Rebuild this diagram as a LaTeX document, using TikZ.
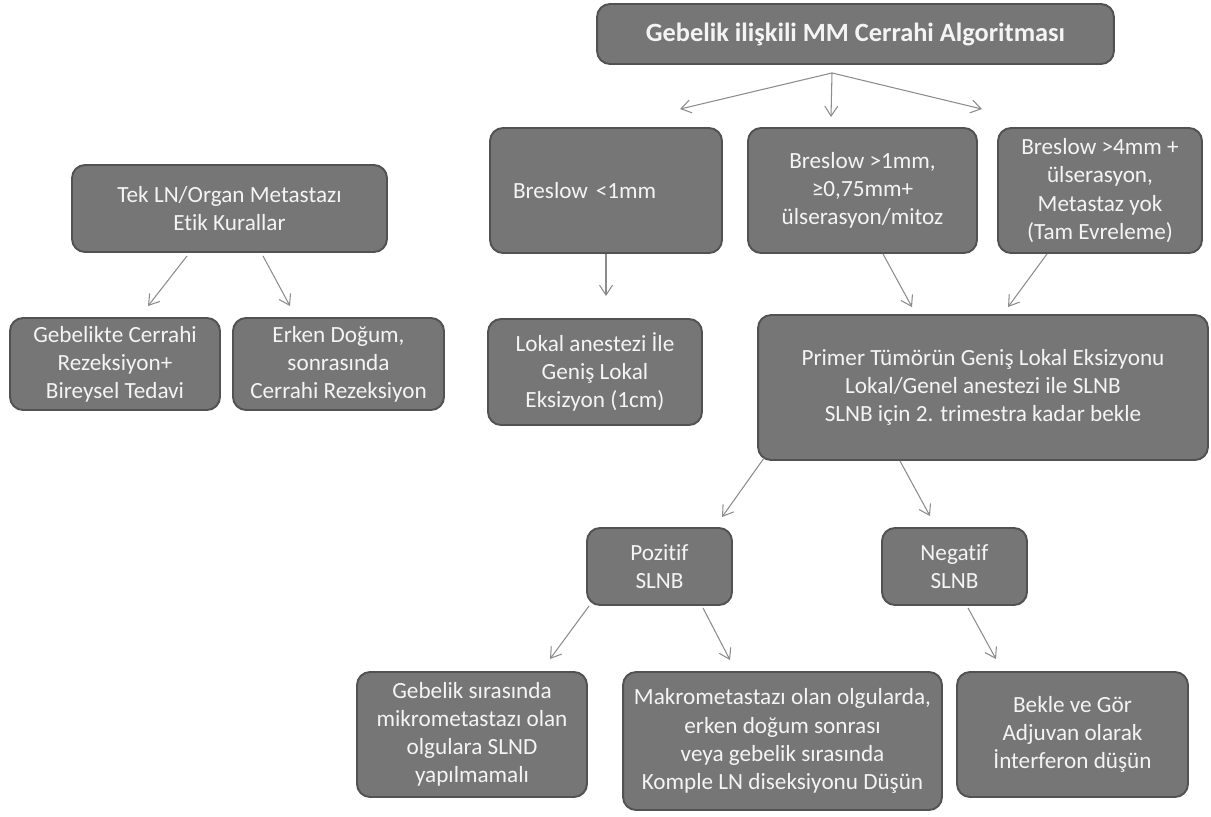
\documentclass[tikz,border=0pt]{standalone}
\usepackage{fontspec}
\setmainfont{Carlito}[Ligatures=NoCommon]
\usetikzlibrary{arrows.meta,calc}
\definecolor{boxfill}{RGB}{118,118,118}
\definecolor{boxline}{RGB}{82,82,82}
\definecolor{boxtext}{RGB}{244,244,244}
\definecolor{arrowgray}{RGB}{140,140,140}

\begin{document}
\begin{tikzpicture}[x=0.02cm, y=-0.02cm,
    box/.style={draw=boxline, fill=boxfill, line width=1.1pt, rounded corners=0.26cm,
        text=boxtext, align=center, inner sep=0pt,
        font=\fontsize{13.2}{16}\selectfont},
    arr/.style={draw=arrowgray, line width=.6pt,
        -{Straight Barb[length=0.2cm, width=0.26cm]}}]
    \useasboundingbox (0,0) rectangle (1211,816);

    \node[box, minimum width=10.34cm, minimum height=1.2cm,
        font=\fontsize{15}{17}\selectfont\bfseries] (title) at (855.5,34)
        {Gebelik ilişkili MM Cerrahi Algoritması};

    \node[box, minimum width=4.64cm, minimum height=2.5cm, text width=3.72cm,
        align=left] (b1) at (606,190.5) {Breslow <1mm};
    \node[box, minimum width=4.58cm, minimum height=2.5cm] (b2) at (862.5,190.5)
        {Breslow >1mm,\\≥0,75mm+\\ülserasyon/mitoz};
    \node[box, minimum width=4.08cm, minimum height=2.5cm] (b3) at (1100,190.5)
        {Breslow >4mm +\\ülserasyon,\\Metastaz yok\\(Tam Evreleme)};

    \node[box, minimum width=6.3cm, minimum height=1.74cm] (tek) at (229.5,208.5)
        {Tek LN/Organ Metastazı\\Etik Kurallar};
    \node[box, minimum width=4.2cm, minimum height=1.84cm] (geb1) at (115,364)
        {Gebelikte Cerrahi\\Rezeksiyon+\\Bireysel Tedavi};
    \node[box, minimum width=4.22cm, minimum height=1.84cm] (erken) at (338.5,364)
        {Erken Doğum,\\sonrasında\\Cerrahi Rezeksiyon};

    \node[box, minimum width=4.28cm, minimum height=2.12cm] (lokal) at (595,372)
        {Lokal anestezi İle\\Geniş Lokal\\Eksizyon (1cm)};
    \node[box, minimum width=9cm, minimum height=2.9cm] (primer) at (983,387.5)
        {Primer Tümörün Geniş Lokal Eksizyonu\\Lokal/Genel anestezi ile SLNB\\SLNB için 2. trimestra kadar bekle};

    \node[box, minimum width=2.9cm, minimum height=1.54cm] (poz) at (659.5,566.5)
        {Pozitif\\SLNB};
    \node[box, minimum width=2.9cm, minimum height=1.54cm] (neg) at (954.5,566.5)
        {Negatif\\SLNB};

    \node[box, minimum width=4.6cm, minimum height=2.5cm] (geb2) at (472,734.5)
        {Gebelik sırasında\\mikrometastazı olan\\olgulara SLND\\yapılmamalı};
    \node[box, minimum width=6.38cm, minimum height=2.76cm] (makro) at (782.5,741)
        {Makrometastazı olan olgularda,\\erken doğum sonrası\\veya gebelik sırasında\\Komple LN diseksiyonu Düşün};
    \node[box, minimum width=4.62cm, minimum height=2.5cm] (bekle) at (1072.5,734.5)
        {Bekle ve Gör\\Adjuvan olarak\\İnterferon düşün};

    \draw[arr] ($(title.south)+(-23.5,8)$) -- ($(b1.north)+(74,-18)$);
    \draw[arr] ($(title.south)+(-23.5,8)$) -- ($(b2.north)+(-31.5,-10)$);
    \draw[arr] ($(title.south)+(-23.5,8)$) -- ($(b3.north)+(-118,-18)$);
    \draw[arr] (b1.south) -- ($(lokal.north)+(11,-22)$);
    \draw[arr] ($(tek.south)+(-42.5,3)$) -- ($(geb1.north)+(33,-11)$);
    \draw[arr] ($(tek.south)+(33.5,3)$) -- ($(erken.north)+(-48.5,-11)$);
    \draw[arr] ($(b2.south)+(20.5,0)$) -- ($(primer.north)+(-71,-7)$);
    \draw[arr] ($(b3.south)+(-53,0)$) -- ($(primer.north)+(25,-7)$);
    \draw[arr] ($(primer.south west)+(7,-3)$) -- ($(poz.north)+(62.5,-10)$);
    \draw[arr] ($(primer.south)+(-83,0)$) -- ($(neg.north)+(-24.5,-11)$);
    \draw[arr] ($(poz.south west)+(3,0)$) -- ($(geb2.north)+(78,-12)$);
    \draw[arr] ($(poz.south)+(43.5,2)$) -- ($(makro.north)+(-52.5,-11)$);
    \draw[arr] ($(neg.south)+(13.5,2)$) -- ($(bekle.north)+(-76.5,-12)$);
\end{tikzpicture}
\end{document}
